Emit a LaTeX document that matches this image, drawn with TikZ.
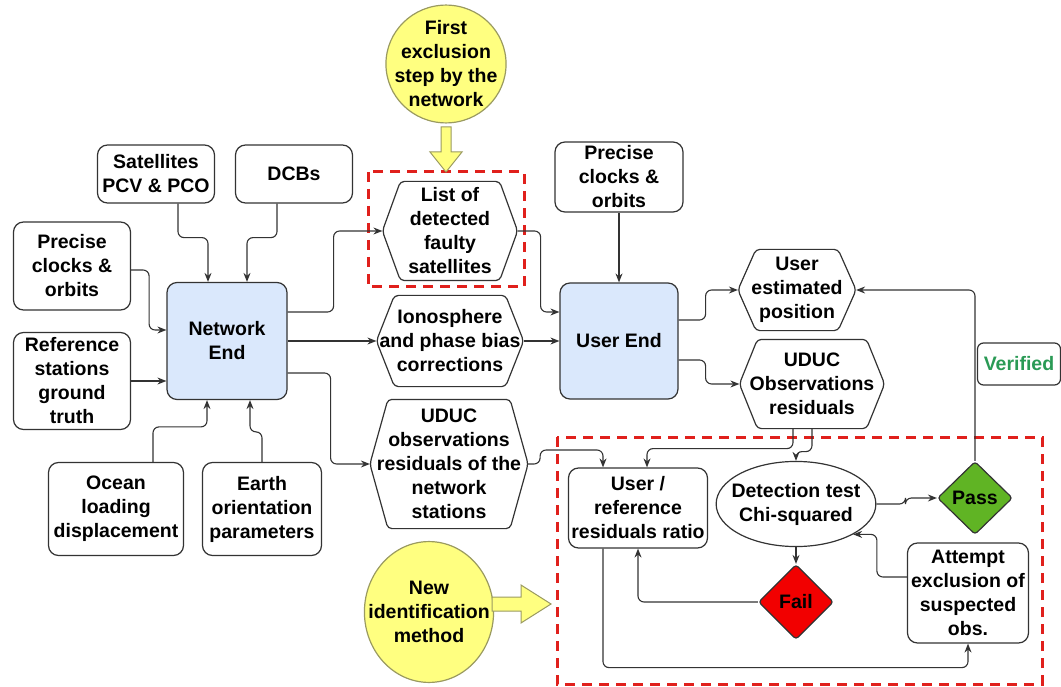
\documentclass[tikz,border=0pt]{standalone}
\usepackage{fontspec}
\setmainfont{Liberation Sans}
\usetikzlibrary{shapes.geometric,arrows.meta}
\definecolor{endblue}{HTML}{DAE8FC}
\definecolor{noteyellow}{HTML}{FFFF80}
\definecolor{noteedge}{HTML}{9A9A60}
\definecolor{passgreen}{HTML}{60B424}
\definecolor{failred}{HTML}{F20000}
\definecolor{boxred}{HTML}{E0201C}
\definecolor{okgreen}{HTML}{2A9A55}
\definecolor{linegray}{HTML}{333333}

\begin{document}
\begin{tikzpicture}
      [x=1pt,y=-1pt,
       every node/.style={font=\fontsize{19.5}{24}\selectfont\bfseries,align=center,line width=1.2pt,draw=linegray,inner sep=2pt},
       box/.style={rectangle,rounded corners=10pt},
       hexa/.style={rectangle,draw=none,
         append after command={\pgfextra{\draw[draw=linegray,line width=1.2pt,rounded corners=4pt]
           (\tikzlastnode.west) -- ([xshift=18pt]\tikzlastnode.north west) -- ([xshift=-18pt]\tikzlastnode.north east)
           -- (\tikzlastnode.east) -- ([xshift=-18pt]\tikzlastnode.south east) -- ([xshift=18pt]\tikzlastnode.south west) -- cycle;}}},
       bubble/.style={ellipse,fill=noteyellow,draw=noteedge},
       choice/.style={diamond,inner sep=0pt,rounded corners=3pt},
       conn/.style={draw=linegray,line width=1.1pt,rounded corners=6pt,-{Stealth[length=9pt,width=7pt]}},
       redbox/.style={draw=boxred,line width=3pt,dash pattern=on 10pt off 7pt},
       blockarrow/.style={fill=noteyellow,draw=noteedge,line width=1pt}]
      \useasboundingbox (0,0) rectangle (1061,687);

      \draw [redbox] (368,172) rectangle (524,287);
      \draw [redbox] (557,437) rectangle (1042,684);

      \node [box,minimum width=117pt,minimum height=58pt] (sat) at (156,174) {Satellites\\PCV \& PCO};
      \node [box,minimum width=117pt,minimum height=58pt] (dcb) at (294,174) {DCBs};
      \node [box,minimum width=117pt,minimum height=88pt] (pco) at (72,266) {Precise\\clocks \&\\orbits};
      \node [box,minimum width=117pt,minimum height=97pt] (ref) at (72,381) {Reference\\stations\\ground\\truth};
      \node [box,fill=endblue,minimum width=120pt,minimum height=117pt] (net) at (227,341) {Network\\End};
      \node [box,minimum width=135pt,minimum height=93pt] (ocean) at (116,509) {Ocean\\loading\\displacement};
      \node [box,minimum width=119pt,minimum height=93pt] (earth) at (262,509) {Earth\\orientation\\parameters};

      \node [bubble,inner xsep=-9pt,inner ysep=-1.5pt] (first) at (446,64) {First\\exclusion\\step by the\\network};
      \node [hexa,minimum width=134pt,minimum height=98pt] (list) at (450,231) {List of\\detected\\faulty\\satellites};
      \node [hexa,minimum width=146pt,minimum height=90pt] (iono) at (450,341) {Ionosphere\\and phase bias\\corrections};
      \node [hexa,minimum width=157pt,minimum height=128pt] (nres) at (449,464) {UDUC\\observations\\residuals of the\\network\\stations};
      \node [bubble,inner xsep=-15pt,inner ysep=19pt] (newid) at (429,612) {New\\identification\\method};

      \node [box,minimum width=128pt,minimum height=70pt] (pcu) at (619,177) {Precise\\clocks \&\\orbits};
      \node [box,fill=endblue,minimum width=118pt,minimum height=116pt] (ue) at (619,341) {User End};
      \node [hexa,minimum width=117pt,minimum height=80pt] (pos) at (797,290) {User\\estimated\\position};
      \node [hexa,minimum width=144pt,minimum height=88pt] (ures) at (812,384) {UDUC\\Observations\\residuals};
      \node [box,rounded corners=6pt,minimum width=83pt,minimum height=42pt,text=okgreen] (ver) at (1019,364) {Verified};

      \node [box,minimum width=139pt,minimum height=80pt] (ratio) at (638,508) {User /\\reference\\residuals ratio};
      \node [ellipse,inner xsep=-8pt,inner ysep=9pt] (chi) at (796,504) {Detection test\\Chi-squared};
      \node [choice,fill=passgreen,minimum width=75pt,minimum height=73pt] (pass) at (975,498) {Pass};
      \node [choice,fill=failred,minimum width=75pt,minimum height=75pt] (fail) at (796,602) {Fail};
      \node [box,minimum width=121pt,minimum height=100pt] (att) at (968,593) {Attempt\\exclusion of\\suspected\\obs.};

      \draw [blockarrow] (441,127) -- (451,127) -- (451,152) -- (462,152) -- (446,172) -- (430,152) -- (441,152) -- cycle;
      \draw [blockarrow] (492,597) -- (521,597) -- (521,585) -- (551,604) -- (521,623) -- (521,611) -- (492,611) -- cycle;

      \draw [conn] ([xshift=22pt]sat.south) -- ++(0,34) -| ([xshift=-19pt]net.north);
      \draw [conn] ([xshift=-17pt]dcb.south) -- ++(0,34) -| ([xshift=20pt]net.north);
      \draw [conn] ([yshift=-4pt]pco.east) -- ++(18,0) |- ([yshift=11pt]net.west);
      \draw [conn] (ref.east) -- (ref.east -| net.west);
      \draw [conn] ([xshift=37pt]ocean.north) -- ++(0,-35) -| ([xshift=-20pt]net.south);
      \draw [conn] (earth.north) -- ++(0,-30) -| ([xshift=23pt]net.south);

      \draw [conn] ([yshift=29pt]net.east) -- ++(46,0) |- (list.west);
      \draw [conn] (net.east) -- (iono.west);
      \draw [conn] ([yshift=-32pt]net.east) -- ++(43,0) |- (nres.west);

      \draw [conn] (list.east) -- ++(23,0) |- ([yshift=29pt]ue.west);
      \draw [conn] (iono.east) -- (ue.west);
      \draw [conn] (pcu.south) -- (ue.north);
      \draw [conn] ([yshift=21pt]ue.east) -- ++(27,0) |- (pos.west);
      \draw [conn] ([yshift=-19pt]ue.east) -- ++(27,0) |- (ures.west);

      \draw [conn] ([xshift=-19pt]ures.south) -- ++(0,20) -| ([xshift=9pt]ratio.north);
      \draw [conn] (ures.south) -- ++(0,23) -| (chi.north);
      \draw [conn] (nres.east) -- ++(12,0) -- ++(0,-14) -| ([xshift=-35pt]ratio.north);

      \draw [conn] (chi.east) -- ++(29,0) |- (pass.west);
      \draw [conn] (pass.north) |- (pos.east);
      \draw [conn] (chi.south) -- (fail.north);
      \draw [conn] (fail.west) -| (ratio.south);
      \draw [conn] ([xshift=-35pt]ratio.south) -- ++(0,119) -| (att.south);
      \draw [conn] ([yshift=16pt]att.west) -- ++(-30,0) |- (chi.-28);
    \end{tikzpicture}
\end{document}
